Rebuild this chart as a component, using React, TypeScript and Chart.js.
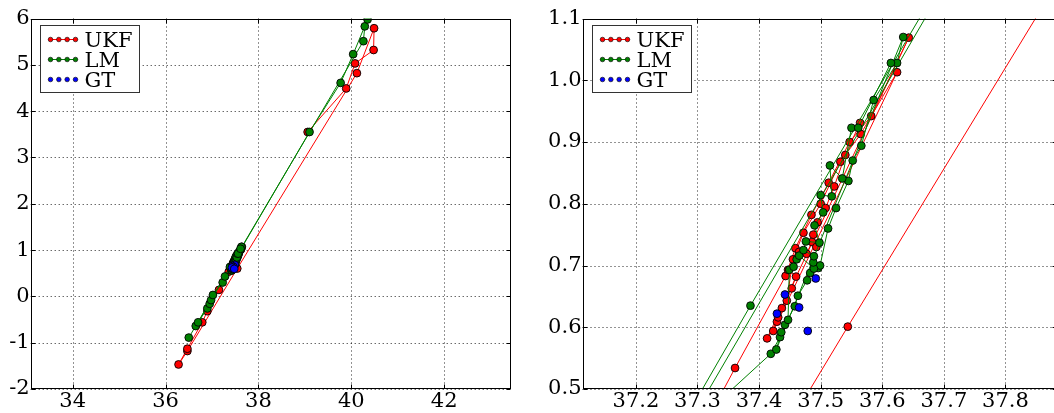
import React, { useEffect, useRef } from 'react';
import { Chart, registerables } from 'chart.js';

Chart.register(...registerables);

// ---- series data (same trajectories in both panels) ----
const UKF_X = [
  39.06, 39.89, 40.08, 40.48, 40.49, 40.12, 37.544, 36.47, 36.28, 36.47, 36.79, 36.9, 37.15,
  37.361, 37.443, 37.459, 37.485, 37.513, 37.547, 37.582, 37.643,
  37.413, 37.429, 37.445, 37.455, 37.472, 37.5, 37.532, 37.565, 37.624,
  37.423, 37.431, 37.437, 37.453, 37.46, 37.447, 37.465, 37.477, 37.486, 37.493, 37.488, 37.495,
  37.508, 37.522, 37.54, 37.564,
];
const UKF_Y = [
  3.55, 4.49, 5.03, 5.32, 5.79, 4.82, 0.601, -1.18, -1.47, -1.13, -0.56, -0.32, 0.14,
  0.534, 0.683, 0.728, 0.782, 0.834, 0.9, 0.942, 1.069,
  0.582, 0.609, 0.643, 0.71, 0.753, 0.8, 0.868, 0.913, 1.013,
  0.594, 0.616, 0.631, 0.663, 0.682, 0.693, 0.722, 0.719, 0.738, 0.73, 0.75, 0.77,
  0.793, 0.828, 0.879, 0.931,
];

const LM_X = [
  36.5, 36.65, 37.386, 40.26, 40.29, 40.35, 40.04, 39.77, 39.1, 36.7, 36.9, 36.95, 36.98, 37.02,
  37.23, 37.28,
  37.419, 37.434, 37.442, 37.458, 37.463, 37.478, 37.483, 37.496, 37.499, 37.512, 37.525, 37.545,
  37.552, 37.566, 37.586, 37.624, 37.634,
  37.428, 37.436, 37.447, 37.449, 37.456, 37.461, 37.465, 37.489, 37.488, 37.489, 37.472, 37.476,
  37.498, 37.49, 37.504, 37.5, 37.518, 37.515, 37.535, 37.55, 37.561, 37.614,
];
const LM_Y = [
  -0.89, -0.64, 0.635, 5.51, 5.83, 5.98, 5.23, 4.61, 3.55, -0.56, -0.26, -0.16, -0.08, 0.03,
  0.3, 0.43,
  0.557, 0.584, 0.604, 0.634, 0.651, 0.676, 0.688, 0.696, 0.7, 0.76, 0.793, 0.837,
  0.87, 0.894, 0.968, 1.028, 1.07,
  0.564, 0.592, 0.612, 0.693, 0.698, 0.71, 0.716, 0.695, 0.705, 0.715, 0.725, 0.739,
  0.737, 0.765, 0.786, 0.814, 0.812, 0.862, 0.841, 0.923, 0.923, 1.028,
];

const GT_X = [37.492, 37.442, 37.465, 37.429, 37.479];
const GT_Y = [0.679, 0.653, 0.632, 0.622, 0.594];

const SERIES_NAMES = ['UKF', 'LM', 'GT'];
const SERIES_COLORS = ['#ff0000', '#008000', '#0000ff'];

// ---- axis ticks ----
const LEFT_X_TICKS = [34, 36, 38, 40, 42];
const LEFT_Y_TICKS = [-2, -1, 0, 1, 2, 3, 4, 5, 6];
const RIGHT_X_TICKS = [37.2, 37.3, 37.4, 37.5, 37.6, 37.7, 37.8];
const RIGHT_Y_TICKS = [0.5, 0.6, 0.7, 0.8, 0.9, 1.0, 1.1];

const FONT_FAMILY = '"DejaVu Serif", "Liberation Serif", serif';
const FONT_SIZE = 21;

const toPoints = (xs: number[], ys: number[]) => xs.map((x, i) => ({ x, y: ys[i] }));

function makeDatasets() {
  const common = {
    borderWidth: 1,
    pointBorderColor: '#000',
    pointBorderWidth: 0.9,
    pointRadius: 3.9,
    pointHoverRadius: 3.9,
    tension: 0,
    clip: 0,
  };
  return [
    {
      ...common,
      label: SERIES_NAMES[0],
      data: toPoints(UKF_X, UKF_Y),
      showLine: true,
      borderColor: SERIES_COLORS[0],
      backgroundColor: SERIES_COLORS[0],
      pointBackgroundColor: SERIES_COLORS[0],
      order: 3,
    },
    {
      ...common,
      label: SERIES_NAMES[1],
      data: toPoints(LM_X, LM_Y),
      showLine: true,
      borderColor: SERIES_COLORS[1],
      backgroundColor: SERIES_COLORS[1],
      pointBackgroundColor: SERIES_COLORS[1],
      order: 2,
    },
    {
      ...common,
      label: SERIES_NAMES[2],
      data: toPoints(GT_X, GT_Y),
      showLine: false,
      borderColor: SERIES_COLORS[2],
      backgroundColor: SERIES_COLORS[2],
      pointBackgroundColor: SERIES_COLORS[2],
      order: 1,
    },
  ];
}

// Dotted grid, solid frame with inward ticks, and a boxed legend in the upper-left corner.
const framePlugin = {
  id: 'mplFrame',
  beforeDatasetsDraw(chart: any) {
    const { ctx, chartArea: a, scales } = chart;
    ctx.save();
    ctx.strokeStyle = 'rgba(0,0,0,0.85)';
    ctx.lineWidth = 1;
    ctx.setLineDash([1, 3]);
    ctx.beginPath();
    for (const t of scales.x.ticks) {
      const px = Math.round(scales.x.getPixelForValue(t.value)) + 0.5;
      ctx.moveTo(px, a.top);
      ctx.lineTo(px, a.bottom);
    }
    for (const t of scales.y.ticks) {
      const py = Math.round(scales.y.getPixelForValue(t.value)) + 0.5;
      ctx.moveTo(a.left, py);
      ctx.lineTo(a.right, py);
    }
    ctx.stroke();
    ctx.restore();
  },
  afterDatasetsDraw(chart: any, _args: any, opts: any) {
    const { ctx, chartArea: a, scales } = chart;
    const L = Math.round(a.left) + 0.5;
    const R = Math.round(a.right) - 0.5;
    const T = Math.round(a.top) + 0.5;
    const B = Math.round(a.bottom) - 0.5;
    ctx.save();
    ctx.setLineDash([]);
    ctx.strokeStyle = '#000';
    ctx.lineWidth = 1;
    ctx.strokeRect(L, T, R - L, B - T);
    const tick = 4;
    ctx.beginPath();
    for (const t of scales.x.ticks) {
      const px = Math.round(scales.x.getPixelForValue(t.value)) + 0.5;
      ctx.moveTo(px, T);
      ctx.lineTo(px, T + tick);
      ctx.moveTo(px, B);
      ctx.lineTo(px, B - tick);
    }
    for (const t of scales.y.ticks) {
      const py = Math.round(scales.y.getPixelForValue(t.value)) + 0.5;
      ctx.moveTo(L, py);
      ctx.lineTo(L + tick, py);
      ctx.moveTo(R, py);
      ctx.lineTo(R - tick, py);
    }
    ctx.stroke();

    // legend
    const x0 = Math.round(a.left + opts.dx) + 0.5;
    const y0 = Math.round(a.top + opts.dy) + 0.5;
    const w = 99;
    const h = 67;
    ctx.fillStyle = '#fff';
    ctx.fillRect(x0, y0, w, h);
    ctx.strokeStyle = '#333';
    ctx.strokeRect(x0, y0, w, h);
    const rows = [14, 34, 54];
    const lines = [true, true, false];
    ctx.font = `${FONT_SIZE}px ${FONT_FAMILY}`;
    ctx.textBaseline = 'alphabetic';
    ctx.textAlign = 'left';
    rows.forEach((ry, i) => {
      const cy = y0 + ry;
      const color = SERIES_COLORS[i];
      if (lines[i]) {
        ctx.strokeStyle = color;
        ctx.lineWidth = 1;
        ctx.beginPath();
        ctx.moveTo(x0 + 8, cy);
        ctx.lineTo(x0 + 37, cy);
        ctx.stroke();
      }
      for (let k = 0; k < 4; k++) {
        const cx = x0 + 10 + k * 8.33;
        ctx.beginPath();
        ctx.arc(cx, cy, 2.3, 0, Math.PI * 2);
        ctx.fillStyle = color;
        ctx.fill();
        ctx.strokeStyle = '#000';
        ctx.lineWidth = 0.6;
        ctx.stroke();
      }
      ctx.fillStyle = '#000';
      ctx.fillText(SERIES_NAMES[i], x0 + 44, cy + 7.6);
    });
    ctx.restore();
  },
};

type PanelCfg = {
  xMin: number;
  xMax: number;
  yMin: number;
  yMax: number;
  xTicks: number[];
  yTicks: number[];
  fmt: (v: number) => string;
  yAxisWidth: number;
  padRight: number;
};

function makeConfig(p: PanelCfg): any {
  const font = { family: FONT_FAMILY, size: FONT_SIZE };
  return {
    type: 'scatter',
    data: { datasets: makeDatasets() },
    plugins: [framePlugin],
    options: {
      animation: false,
      responsive: false,
      events: [],
      layout: { padding: { top: 18.5, right: p.padRight, left: 0, bottom: 0 } },
      plugins: {
        legend: { display: false },
        tooltip: { enabled: false },
        mplFrame: { dx: 9.3, dy: 6.8 },
      },
      scales: {
        x: {
          type: 'linear',
          min: p.xMin,
          max: p.xMax,
          grid: { display: false, drawTicks: false },
          border: { display: false },
          ticks: {
            font,
            color: '#000',
            padding: 0,
            autoSkip: false,
            maxRotation: 0,
            callback: (v: number) => p.fmt(v),
          },
          afterBuildTicks: (s: any) => {
            s.ticks = p.xTicks.map((v) => ({ value: v }));
          },
          afterFit: (s: any) => {
            s.height = 24;
          },
        },
        y: {
          type: 'linear',
          min: p.yMin,
          max: p.yMax,
          grid: { display: false, drawTicks: false },
          border: { display: false },
          ticks: {
            font,
            color: '#000',
            padding: 1,
            autoSkip: false,
            callback: (v: number) => p.fmt(v),
          },
          afterBuildTicks: (s: any) => {
            s.ticks = p.yTicks.map((v) => ({ value: v }));
          },
          afterFit: (s: any) => {
            s.width = p.yAxisWidth;
          },
        },
      },
    },
  };
}

function Panel(props: { cfg: PanelCfg; left: number; width: number }) {
  const ref = useRef<HTMLCanvasElement>(null);
  useEffect(() => {
    if (!ref.current) return;
    const chart = new Chart(ref.current, makeConfig(props.cfg));
    return () => chart.destroy();
  }, []);
  return (
    <canvas
      ref={ref}
      width={props.width}
      height={413}
      style={{ position: 'absolute', left: props.left, top: 0, width: props.width, height: 413, display: 'block' }}
    />
  );
}

const LEFT_CFG: PanelCfg = {
  xMin: 33.096,
  xMax: 43.43,
  yMin: -2,
  yMax: 6,
  xTicks: LEFT_X_TICKS,
  yTicks: LEFT_Y_TICKS,
  fmt: (v) => String(v),
  yAxisWidth: 30.7,
  padRight: 16.4,
};

const RIGHT_CFG: PanelCfg = {
  xMin: 37.1133,
  xMax: 37.884,
  yMin: 0.5,
  yMax: 1.1,
  xTicks: RIGHT_X_TICKS,
  yTicks: RIGHT_Y_TICKS,
  fmt: (v) => v.toFixed(1),
  yAxisWidth: 55.5,
  padRight: 4,
};

export default function App() {
  return (
    <div
      style={{
        position: 'fixed',
        left: 0,
        top: 0,
        width: 1054,
        height: 413,
        overflow: 'hidden',
        background: '#fff',
      }}
    >
      <Panel cfg={LEFT_CFG} left={0} width={527} />
      <Panel cfg={RIGHT_CFG} left={527} width={535} />
    </div>
  );
}
